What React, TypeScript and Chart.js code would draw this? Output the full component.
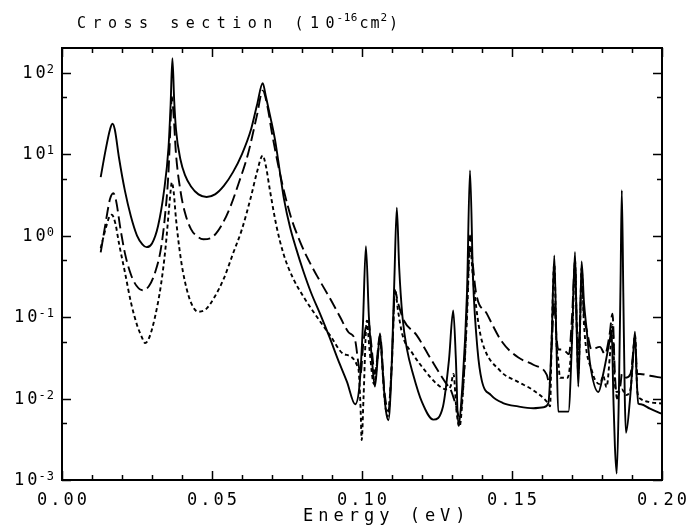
import { useEffect, useRef } from "react";
import { Chart, registerables } from "chart.js";

Chart.register(...registerables);

// ---- data (energy in eV, cross section in 1e-16 cm^2) ----
const solidE = [
  0.0129, 0.0145, 0.016, 0.0168, 0.0176, 0.019, 0.021, 0.023, 0.025, 0.0268, 0.0282, 0.03, 0.032, 0.034,
  0.0355, 0.0362, 0.0368, 0.0374, 0.038, 0.0395, 0.041, 0.043, 0.0455, 0.0482, 0.051, 0.054, 0.057, 0.06,
  0.063, 0.065, 0.0669, 0.068, 0.0695, 0.071, 0.0725, 0.074, 0.076, 0.078, 0.0804, 0.083, 0.086, 0.0893,
  0.092, 0.095, 0.0977, 0.0992, 0.1003, 0.1013, 0.1023, 0.1035, 0.1043, 0.1052, 0.106, 0.1068, 0.1078,
  0.1088, 0.1098, 0.1108, 0.1116, 0.1124, 0.1135, 0.115, 0.117, 0.12, 0.1238, 0.127, 0.129, 0.1304, 0.1313,
  0.1321, 0.1335, 0.135, 0.136, 0.137, 0.1385, 0.1399, 0.143, 0.147, 0.152, 0.1571, 0.1605, 0.1621, 0.1632,
  0.1641, 0.1648, 0.1654, 0.1688, 0.17, 0.171, 0.1716, 0.1721, 0.1727, 0.1732, 0.174, 0.1749, 0.176, 0.1788,
  0.1804, 0.1825, 0.1832, 0.1838, 0.1843, 0.1849, 0.1856, 0.1862, 0.1866, 0.1871, 0.1876, 0.188, 0.1893,
  0.1903, 0.191, 0.1915, 0.1921, 0.193, 0.196, 0.1999,
];
const solidV = [
  5.2, 11, 20, 23.5, 20, 9, 3.5, 1.7, 1.0, 0.78, 0.72, 0.8, 1.3, 3.5,
  12, 40, 150, 45, 20, 8.5, 5.5, 4.0, 3.2, 2.97, 3.2, 4.1, 6, 10,
  20, 40, 74, 50, 28, 15, 6.5, 2.8, 1.27, 0.7, 0.37, 0.2, 0.11, 0.055,
  0.03, 0.016, 0.0085, 0.015, 0.08, 0.74, 0.1, 0.025, 0.014, 0.03, 0.063, 0.025, 0.008,
  0.0054, 0.02, 0.3, 2.2, 0.4, 0.1, 0.04, 0.02, 0.009, 0.0055, 0.008, 0.03, 0.12, 0.03,
  0.0047, 0.015, 0.2, 6.3, 0.3, 0.04, 0.0168, 0.011, 0.0088, 0.008, 0.0076, 0.0078, 0.0087, 0.05,
  0.57, 0.05, 0.0069, 0.0069, 0.05, 0.63, 0.06, 0.014, 0.08, 0.48, 0.15, 0.069, 0.027, 0.012,
  0.02, 0.05, 0.069, 0.01, 0.0026, 0.0012, 0.01, 0.3, 3.6, 0.2, 0.01, 0.0038, 0.0095,
  0.03, 0.066, 0.02, 0.0087, 0.0085, 0.0075, 0.0065,
];

const dashE = [
  0.0129, 0.0145, 0.016, 0.0171, 0.018, 0.0195, 0.021, 0.023, 0.0249, 0.0269, 0.029, 0.031, 0.033, 0.0345,
  0.0355, 0.0362, 0.0366, 0.0372, 0.038, 0.0395, 0.041, 0.043, 0.0455, 0.0471, 0.05, 0.053, 0.056, 0.059,
  0.062, 0.065, 0.0669, 0.0685, 0.07, 0.072, 0.074, 0.0765, 0.0793, 0.0816, 0.085, 0.0893, 0.0927, 0.0955,
  0.0977, 0.0988, 0.0995, 0.1005, 0.1021, 0.103, 0.1043, 0.106, 0.1075, 0.1088, 0.11, 0.111, 0.112, 0.114,
  0.1182, 0.122, 0.126, 0.1282, 0.1295, 0.131, 0.1325, 0.134, 0.1352, 0.136, 0.1368, 0.138, 0.1416, 0.1466,
  0.152, 0.1571, 0.1616, 0.1625, 0.1632, 0.1641, 0.1648, 0.1654, 0.167, 0.169, 0.17, 0.171, 0.1716, 0.1721,
  0.1727, 0.1732, 0.174, 0.1749, 0.1765, 0.1793, 0.181, 0.1825, 0.1835, 0.1843, 0.185, 0.1862, 0.1866, 0.188,
  0.1895, 0.191, 0.1918, 0.1927, 0.196, 0.1999,
];
const dashV = [
  0.62, 1.4, 2.8, 3.3, 2.7, 1.2, 0.6, 0.33, 0.24, 0.213, 0.24, 0.35, 0.7, 2.0,
  6, 25, 50, 30, 10, 3.5, 1.9, 1.2, 0.95, 0.9, 0.95, 1.3, 2.2, 4.5,
  10, 30, 60, 38, 18, 7.5, 3.5, 1.6, 0.85, 0.55, 0.32, 0.17, 0.1, 0.065,
  0.052, 0.027, 0.02, 0.05, 0.09, 0.05, 0.02, 0.06, 0.012, 0.007, 0.03, 0.21, 0.15, 0.09,
  0.06, 0.035, 0.02, 0.015, 0.013, 0.009, 0.006, 0.02, 0.2, 1.0, 0.5, 0.2, 0.11, 0.05,
  0.032, 0.026, 0.0195, 0.015, 0.04, 0.15, 0.06, 0.04, 0.04, 0.035, 0.1, 0.45, 0.08, 0.04,
  0.1, 0.35, 0.1, 0.07, 0.04, 0.043, 0.035, 0.06, 0.11, 0.02, 0.01, 0.015, 0.02, 0.018,
  0.02, 0.05, 0.02, 0.02, 0.019, 0.018,
];

const dotE = [
  0.0129, 0.0145, 0.0158, 0.0166, 0.0178, 0.019, 0.021, 0.023, 0.025, 0.0265, 0.0277, 0.029, 0.031, 0.033,
  0.0345, 0.0355, 0.0362, 0.0366, 0.0372, 0.038, 0.0395, 0.041, 0.043, 0.0454, 0.048, 0.051, 0.054, 0.057,
  0.06, 0.063, 0.065, 0.0669, 0.068, 0.0693, 0.0715, 0.0738, 0.077, 0.0804, 0.085, 0.0893, 0.094, 0.0988,
  0.0995, 0.0999, 0.1005, 0.1016, 0.1025, 0.104, 0.106, 0.1075, 0.1085, 0.11, 0.111, 0.112, 0.1135, 0.117,
  0.121, 0.125, 0.128, 0.1295, 0.1305, 0.1315, 0.1325, 0.1335, 0.135, 0.136, 0.137, 0.1385, 0.1399, 0.146,
  0.152, 0.157, 0.1621, 0.1627, 0.1632, 0.1641, 0.1648, 0.1654, 0.166, 0.1685, 0.1695, 0.1703, 0.171, 0.1716,
  0.1721, 0.1727, 0.1732, 0.174, 0.1766, 0.1793, 0.1804, 0.1815, 0.1828, 0.1835, 0.1843, 0.185, 0.1866,
  0.188, 0.1895, 0.191, 0.1918, 0.1927, 0.196, 0.1999,
];
const dotV = [
  0.7, 1.2, 1.7, 1.8, 1.4, 0.8, 0.35, 0.15, 0.08, 0.058, 0.048, 0.055, 0.1, 0.25,
  0.7, 1.8, 3.5, 4.5, 3.5, 1.6, 0.55, 0.27, 0.15, 0.116, 0.125, 0.18, 0.3, 0.6,
  1.2, 3, 6, 9.6, 7, 3.6, 1.3, 0.6, 0.3, 0.18, 0.1, 0.06, 0.035, 0.023,
  0.008, 0.0031, 0.01, 0.09, 0.04, 0.015, 0.05, 0.01, 0.006, 0.03, 0.22, 0.12, 0.06, 0.035,
  0.022, 0.015, 0.013, 0.014, 0.02, 0.007, 0.0045, 0.01, 0.1, 0.75, 0.3, 0.1, 0.052, 0.022,
  0.016, 0.0127, 0.0087, 0.008, 0.05, 0.45, 0.05, 0.03, 0.018, 0.018, 0.03, 0.1, 0.5, 0.07,
  0.02, 0.08, 0.4, 0.08, 0.022, 0.015, 0.019, 0.0138, 0.04, 0.08, 0.015, 0.012, 0.013,
  0.011, 0.013, 0.06, 0.012, 0.01, 0.009, 0.0087,
];

// ---- axes ----
const xMajorTicks = [0, 0.05, 0.1, 0.15, 0.2];
const xTickLabels = ["0.00", "0.05", "0.10", "0.15", "0.20"];
const xMinorTicks = [0.01, 0.02, 0.03, 0.04, 0.06, 0.07, 0.08, 0.09, 0.11, 0.12, 0.13, 0.14, 0.16, 0.17, 0.18, 0.19];
const yMajorTicks = [0.001, 0.01, 0.1, 1, 10, 100];
const yTickExponents = ["-3", "-2", "-1", "0", "1", "2"];
const yMinorTicks = [0.005, 0.05, 0.5, 5, 50];
const titleParts = ["Cross section (10", "-16", "cm", "2", ")"];
const xAxisTitle = "Energy (eV)";

const FONT = '"DejaVu Sans Mono", monospace';

function pts(xs: number[], ys: number[]) {
  return xs.map((x, i) => ({ x, y: ys[i] }));
}

function spacedWidth(ctx: any, text: string, spacing: number) {
  return ctx.measureText(text).width - spacing;
}

function drawText(ctx: any, text: string, x: number, y: number, size: number, spacing: number, align: string, baseline: string) {
  ctx.font = `${size}px ${FONT}`;
  ctx.letterSpacing = `${spacing}px`;
  ctx.textBaseline = baseline;
  ctx.textAlign = "left";
  const w = spacedWidth(ctx, text, spacing);
  let x0 = x;
  if (align === "center") x0 = x - w / 2;
  else if (align === "right") x0 = x - w;
  ctx.fillText(text, x0, y);
  return w;
}

const framePlugin = {
  id: "frame",
  afterDraw(chart: any) {
    const { ctx, chartArea: a, scales } = chart;
    const xs = scales.x;
    const ys = scales.y;
    ctx.save();
    ctx.strokeStyle = "#000";
    ctx.fillStyle = "#000";
    ctx.lineWidth = 1.5;
    ctx.beginPath();
    const tick = (list: number[], len: number, horiz: boolean) => {
      for (const v of list) {
        if (horiz) {
          const px = Math.round(xs.getPixelForValue(v)) + 0.5;
          ctx.moveTo(px, a.bottom);
          ctx.lineTo(px, a.bottom - len);
          ctx.moveTo(px, a.top);
          ctx.lineTo(px, a.top + len);
        } else {
          const py = Math.round(ys.getPixelForValue(v)) + 0.5;
          ctx.moveTo(a.left, py);
          ctx.lineTo(a.left + len, py);
          ctx.moveTo(a.right, py);
          ctx.lineTo(a.right - len, py);
        }
      }
    };
    tick(xMinorTicks, 5, true);
    tick(xMajorTicks, 9, true);
    tick(yMinorTicks, 5, false);
    tick(yMajorTicks, 9, false);
    ctx.stroke();
    ctx.lineWidth = 2;
    ctx.strokeRect(a.left, a.top, a.right - a.left, a.bottom - a.top);

    // x tick labels
    xMajorTicks.forEach((v, i) => {
      drawText(ctx, xTickLabels[i], xs.getPixelForValue(v), a.bottom + 25, 17, 3, "center", "alphabetic");
    });
    // y tick labels
    yMajorTicks.forEach((v, i) => {
      const py = ys.getPixelForValue(v);
      const right = a.left - 8;
      ctx.font = `12px ${FONT}`;
      ctx.letterSpacing = "1px";
      const ew = spacedWidth(ctx, yTickExponents[i], 1);
      drawText(ctx, yTickExponents[i], right, py - 3, 12, 1, "right", "middle");
      drawText(ctx, "10", right - ew - 1, py + 1, 17, 3, "right", "middle");
    });
    // title
    let tx = 77;
    tx += drawText(ctx, titleParts[0], tx, 28, 15, 6.5, "left", "alphabetic") + 2;
    tx += drawText(ctx, titleParts[1], tx, 21, 11, 0.5, "left", "alphabetic") + 2;
    tx += drawText(ctx, titleParts[2], tx, 28, 15, 2, "left", "alphabetic") + 1;
    tx += drawText(ctx, titleParts[3], tx, 21, 11, 0, "left", "alphabetic") + 2;
    drawText(ctx, titleParts[4], tx, 28, 15, 0, "left", "alphabetic");
    // x-axis title
    drawText(ctx, xAxisTitle, 303, a.bottom + 41, 17, 5, "left", "alphabetic");
    ctx.restore();
  },
};

export default function App() {
  const ref = useRef<HTMLCanvasElement | null>(null);
  useEffect(() => {
    document.body.style.margin = "0";
    const canvas = ref.current;
    if (!canvas) return;
    const common = {
      borderColor: "#000",
      borderWidth: 1.9,
      pointRadius: 0,
      fill: false,
      cubicInterpolationMode: "monotone" as const,
    };
    const chart = new Chart(canvas, {
      type: "line",
      data: {
        datasets: [
          { ...common, label: "solid", data: pts(solidE, solidV) },
          { ...common, label: "dashed", data: pts(dashE, dashV), borderDash: [12, 5] },
          { ...common, label: "dotted", data: pts(dotE, dotV), borderDash: [4, 3] },
        ],
      },
      options: {
        responsive: false,
        animation: false,
        devicePixelRatio: 1,
        layout: { padding: { left: 62, right: 26, top: 48, bottom: 47 } },
        plugins: { legend: { display: false }, tooltip: { enabled: false }, title: { display: false } },
        scales: {
          x: { type: "linear", min: 0, max: 0.2, display: false },
          y: { type: "logarithmic", min: 0.001, max: 200, display: false },
        },
      },
      plugins: [framePlugin],
    });
    return () => chart.destroy();
  }, []);
  return (
    <div style={{ width: 688, height: 527, background: "#fff" }}>
      <canvas ref={ref} width={688} height={527} style={{ display: "block" }} />
    </div>
  );
}
